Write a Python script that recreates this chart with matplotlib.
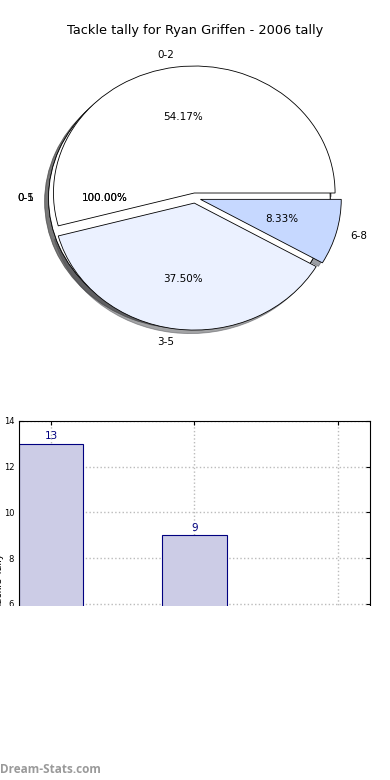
import matplotlib
matplotlib.use("Agg")
import matplotlib.pyplot as plt
from matplotlib.patches import Rectangle

# pie data
pie_labels = ["0-2", "3-5", "6-8"]
pie_values = [13, 9, 2]
pie_colors = ["#ffffff", "#ebf1ff", "#c6d8ff"]
bg_labels = ["0-1", "0-5"]

# bar data
bar_labels = ["0-2", "3-5", "6-8"]
bar_values = [13, 9, 2]

title = "Tackle tally for Ryan Griffen - 2006 tally"

fig = plt.figure(figsize=(3.9, 7.8), dpi=100)

# --- pie ---
ax1 = fig.add_axes([0.0487, 0.5426, 0.9026, 0.407])
for lbl in bg_labels:
    w, t, a = ax1.pie([1], labels=[lbl], colors=["#ffffff"], autopct="%.2f%%",
                      explode=[0.04], shadow=True, startangle=0,
                      textprops={"fontsize": 7.5},
                      wedgeprops={"edgecolor": "black", "linewidth": 0.6})
w, t, a = ax1.pie(pie_values, labels=pie_labels, colors=pie_colors,
                  autopct="%.2f%%", explode=[0.04] * len(pie_values),
                  shadow=True, startangle=0, textprops={"fontsize": 7.5},
                  wedgeprops={"edgecolor": "black", "linewidth": 0.6})
ax1.set_aspect("auto")
ax1.set_xlim(-1.25, 1.25)
ax1.set_ylim(-1.25, 1.25)
fig.text(0.5, 0.961, title, ha="center", va="center", fontsize=9.3)

# --- bars ---
ax2 = fig.add_axes([0.0487, 0.05, 0.9, 0.4103])
x = list(range(len(bar_values)))
bars = ax2.bar(x, bar_values, width=0.45, color="#ccccE6", edgecolor="navy",
               linewidth=0.8, zorder=2)
for xi, v in zip(x, bar_values):
    ax2.text(xi, v + 0.12, str(v), ha="center", va="bottom", color="navy",
             fontsize=7.5)
ax2.set_xlim(-0.225, 2.225)
ax2.set_ylim(0, 14)
ax2.set_yticks([0, 2, 4, 6, 8, 10, 12, 14])
ax2.set_xticks(x)
ax2.set_xticklabels(bar_labels)
ax2.tick_params(direction="in", top=True, right=True, labelsize=6, length=3)
ax2.grid(True, linestyle=":", color="#bbbbbb", linewidth=1, zorder=1)
ax2.set_axisbelow(True)
ax2.set_ylabel("Tackle Tally", fontsize=7)
ax2.yaxis.set_label_coords(-0.042, 0.5)

# white cover for bottom part, as in the original
fig.add_artist(Rectangle((0, 0), 1, 0.2237, transform=fig.transFigure,
                         facecolor="white", edgecolor="none", zorder=10))
fig.text(0.0, 0.013, "Dream-Stats.com", ha="left", va="center", fontsize=8.5,
         color="#9a9a9a", family=["Open Sans", "DejaVu Sans"],
         fontweight="bold", zorder=11)

fig.savefig("out.png", dpi=100)
